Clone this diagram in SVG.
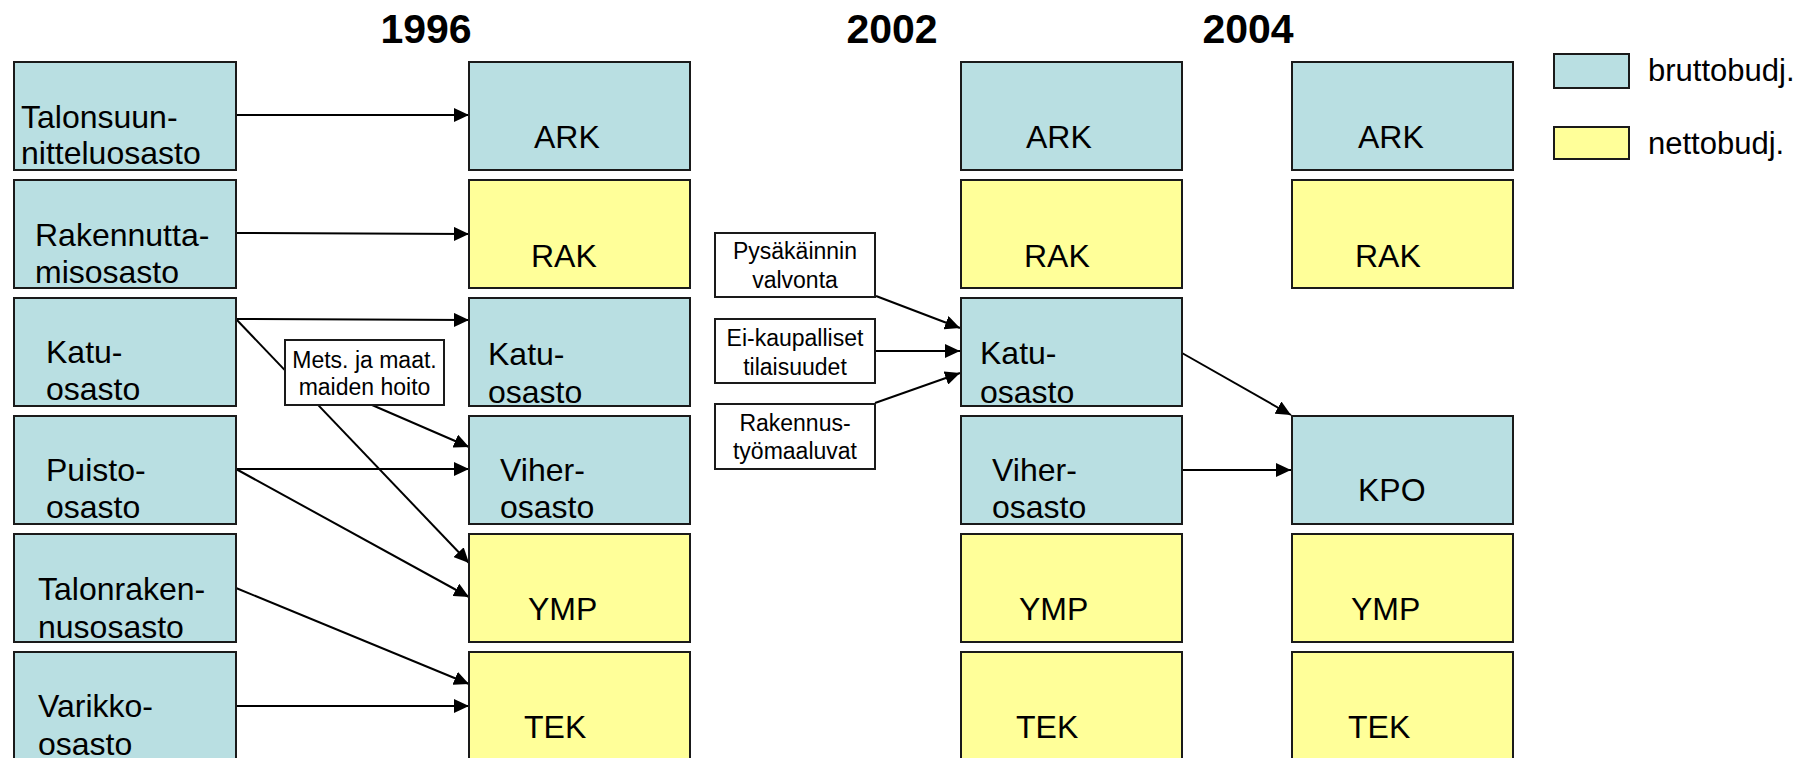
<svg xmlns="http://www.w3.org/2000/svg" width="1816" height="758" viewBox="0 0 1816 758">
<defs>
<marker id="ah" markerUnits="userSpaceOnUse" markerWidth="16" markerHeight="14" refX="15" refY="7" orient="auto">
<path d="M0,0 L15,7 L0,14 z" fill="#000"/>
</marker>
<style>
.b{fill:#B9DFE2;stroke:#1a1a1a;stroke-width:2}
.y{fill:#FFFF99;stroke:#1a1a1a;stroke-width:2}
.w{fill:#fff;stroke:#1a1a1a;stroke-width:2}
.t{font-family:"Liberation Sans",Arial,sans-serif;font-size:32px;fill:#000}
.s{font-family:"Liberation Sans",Arial,sans-serif;font-size:23px;fill:#000;text-anchor:middle}
.h{font-family:"Liberation Sans",Arial,sans-serif;font-size:41px;font-weight:bold;fill:#000;text-anchor:middle}
.c line{stroke:#000;stroke-width:2;marker-end:url(#ah)}
</style>
</defs>
<rect width="1816" height="758" fill="#fff"/>
<g id="titles">
<text class="h" x="426" y="43">1996</text>
<text class="h" x="892" y="43">2002</text>
<text class="h" x="1248" y="43">2004</text>
</g>
<g id="connectors" class="c">
<line x1="236" y1="115" x2="469" y2="115"/>
<line x1="236" y1="233" x2="469" y2="234"/>
<line x1="236" y1="319" x2="469" y2="320"/>
<line x1="236" y1="319" x2="469" y2="563"/>
<line x1="372" y1="405" x2="469" y2="447"/>
<line x1="236" y1="469" x2="469" y2="469"/>
<line x1="236" y1="469" x2="469" y2="597"/>
<line x1="236" y1="588" x2="469" y2="684"/>
<line x1="236" y1="706" x2="469" y2="706"/>
<line x1="876" y1="296" x2="960" y2="328"/>
<line x1="876" y1="351" x2="960" y2="351"/>
<line x1="875" y1="403" x2="960" y2="373"/>
<line x1="1182" y1="353" x2="1291" y2="415"/>
<line x1="1182" y1="470" x2="1291" y2="470"/>
</g>
<g id="n1996-talonsuun"><rect class="b" x="14" y="62" width="222" height="108"/><text class="t" x="21" y="128">Talonsuun-</text><text class="t" x="21" y="164">nitteluosasto</text></g>
<g id="n1996-rakennutta"><rect class="b" x="14" y="180" width="222" height="108"/><text class="t" x="35" y="246">Rakennutta-</text><text class="t" x="35" y="283">misosasto</text></g>
<g id="n1996-katu"><rect class="b" x="14" y="298" width="222" height="108"/><text class="t" x="46" y="363">Katu-</text><text class="t" x="46" y="400">osasto</text></g>
<g id="n1996-puisto"><rect class="b" x="14" y="416" width="222" height="108"/><text class="t" x="46" y="481">Puisto-</text><text class="t" x="46" y="518">osasto</text></g>
<g id="n1996-talonraken"><rect class="b" x="14" y="534" width="222" height="108"/><text class="t" x="38" y="600">Talonraken-</text><text class="t" x="38" y="638">nusosasto</text></g>
<g id="n1996-varikko"><rect class="b" x="14" y="652" width="222" height="108"/><text class="t" x="38" y="717">Varikko-</text><text class="t" x="38" y="755">osasto</text></g>

<g id="n1996b-ark"><rect class="b" x="469" y="62" width="221" height="108"/><text class="t" x="534" y="148">ARK</text></g>
<g id="n1996b-rak"><rect class="y" x="469" y="180" width="221" height="108"/><text class="t" x="531" y="267">RAK</text></g>
<g id="n1996b-katu"><rect class="b" x="469" y="298" width="221" height="108"/><text class="t" x="488" y="365">Katu-</text><text class="t" x="488" y="403">osasto</text></g>
<g id="n1996b-viher"><rect class="b" x="469" y="416" width="221" height="108"/><text class="t" x="500" y="481">Viher-</text><text class="t" x="500" y="518">osasto</text></g>
<g id="n1996b-ymp"><rect class="y" x="469" y="534" width="221" height="108"/><text class="t" x="528" y="620">YMP</text></g>
<g id="n1996b-tek"><rect class="y" x="469" y="652" width="221" height="108"/><text class="t" x="524" y="738">TEK</text></g>

<g id="lbl-mets"><rect class="w" x="285" y="340" width="159" height="65"/><text class="s" x="364.5" y="368">Mets. ja maat.</text><text class="s" x="364.5" y="395">maiden hoito</text></g>
<g id="lbl-pysakointi"><rect class="w" x="715" y="233" width="160" height="64"/><text class="s" x="795" y="259">Pysäkäinnin</text><text class="s" x="795" y="288">valvonta</text></g>
<g id="lbl-eikaup"><rect class="w" x="715" y="319" width="160" height="64"/><text class="s" x="795" y="346">Ei-kaupalliset</text><text class="s" x="795" y="375">tilaisuudet</text></g>
<g id="lbl-rakennus"><rect class="w" x="715" y="404" width="160" height="65"/><text class="s" x="795" y="431">Rakennus-</text><text class="s" x="795" y="459">työmaaluvat</text></g>

<g id="n2002-ark"><rect class="b" x="961" y="62" width="221" height="108"/><text class="t" x="1026" y="148">ARK</text></g>
<g id="n2002-rak"><rect class="y" x="961" y="180" width="221" height="108"/><text class="t" x="1024" y="267">RAK</text></g>
<g id="n2002-katu"><rect class="b" x="961" y="298" width="221" height="108"/><text class="t" x="980" y="364">Katu-</text><text class="t" x="980" y="403">osasto</text></g>
<g id="n2002-viher"><rect class="b" x="961" y="416" width="221" height="108"/><text class="t" x="992" y="481">Viher-</text><text class="t" x="992" y="518">osasto</text></g>
<g id="n2002-ymp"><rect class="y" x="961" y="534" width="221" height="108"/><text class="t" x="1019" y="620">YMP</text></g>
<g id="n2002-tek"><rect class="y" x="961" y="652" width="221" height="108"/><text class="t" x="1016" y="738">TEK</text></g>

<g id="n2004-ark"><rect class="b" x="1292" y="62" width="221" height="108"/><text class="t" x="1358" y="148">ARK</text></g>
<g id="n2004-rak"><rect class="y" x="1292" y="180" width="221" height="108"/><text class="t" x="1355" y="267">RAK</text></g>
<g id="n2004-kpo"><rect class="b" x="1292" y="416" width="221" height="108"/><text class="t" x="1358" y="501">KPO</text></g>
<g id="n2004-ymp"><rect class="y" x="1292" y="534" width="221" height="108"/><text class="t" x="1351" y="620">YMP</text></g>
<g id="n2004-tek"><rect class="y" x="1292" y="652" width="221" height="108"/><text class="t" x="1348" y="738">TEK</text></g>

<g id="legend">
<rect class="b" x="1554" y="54" width="75" height="34"/>
<text class="t" x="1648" y="81" style="font-size:31px">bruttobudj.</text>
<rect class="y" x="1554" y="127" width="75" height="32"/>
<text class="t" x="1648" y="154" style="font-size:31px">nettobudj.</text>
</g>
</svg>
